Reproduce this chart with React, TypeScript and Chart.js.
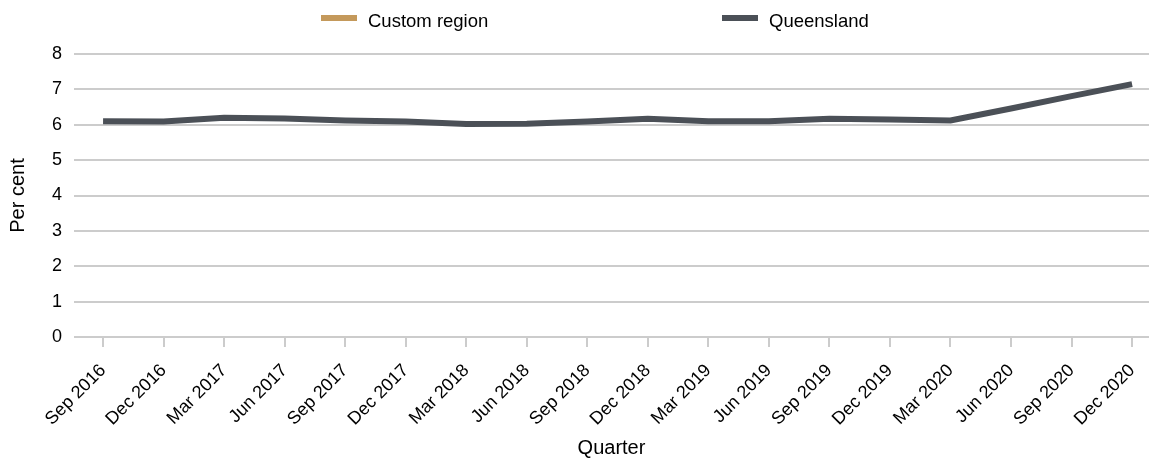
import React, { useEffect, useRef } from "react";
import { Chart, registerables } from "chart.js";

Chart.register(...registerables);

const QUARTERS = [
  "Sep 2016", "Dec 2016", "Mar 2017", "Jun 2017", "Sep 2017", "Dec 2017",
  "Mar 2018", "Jun 2018", "Sep 2018", "Dec 2018", "Mar 2019", "Jun 2019",
  "Sep 2019", "Dec 2019", "Mar 2020", "Jun 2020", "Sep 2020", "Dec 2020",
];
const CUSTOM_REGION: number[] = [];
const QUEENSLAND = [
  6.10, 6.09, 6.20, 6.18, 6.12, 6.09, 6.02, 6.03, 6.09, 6.17,
  6.10, 6.10, 6.17, 6.15, 6.12, 6.46, 6.81, 7.15,
];
const Y_TICKS = [0, 1, 2, 3, 4, 5, 6, 7, 8];

const FONT = "'Liberation Sans', Arial, Helvetica, sans-serif";
const GRID = "#cccccc";

const legendPlugin = {
  id: "slotLegend",
  afterDraw(chart: any) {
    const ctx = chart.ctx;
    const cx = chart.width / 2;
    ctx.save();
    chart.data.datasets.forEach((ds: any, i: number) => {
      const x0 = cx - 253.5 + i * 401;
      ctx.fillStyle = ds.borderColor;
      ctx.fillRect(x0, 15, 36, 6);
      ctx.fillStyle = "#000";
      ctx.font = `18.5px ${FONT}`;
      ctx.textBaseline = "alphabetic";
      ctx.textAlign = "left";
      ctx.fillText(ds.label, x0 + 47, 27);
    });
    ctx.restore();
  },
};

export default function App() {
  const ref = useRef<HTMLCanvasElement>(null);
  useEffect(() => {
    document.body.style.margin = "0";
    const chart = new Chart(ref.current!, {
      type: "line",
      data: {
        datasets: [
          {
            label: "Custom region",
            data: CUSTOM_REGION.map((v, i) => ({ x: i, y: v })),
            borderColor: "#c4995b",
            backgroundColor: "#c4995b",
            borderWidth: 6,
            pointRadius: 0,
          },
          {
            label: "Queensland",
            data: QUEENSLAND.map((v, i) => ({ x: i, y: v })),
            borderColor: "#4b5057",
            backgroundColor: "#4b5057",
            borderWidth: 6,
            pointRadius: 0,
            tension: 0,
          },
        ],
      },
      options: {
        animation: false,
        responsive: true,
        maintainAspectRatio: false,
        layout: { padding: { top: 54, left: 0, right: 0, bottom: 0 } },
        plugins: { legend: { display: false }, tooltip: { enabled: false } },
        scales: {
          x: {
            type: "linear",
            min: -0.48,
            max: 17.28,
            afterBuildTicks: (scale: any) => {
              scale.ticks = QUARTERS.map((_, i) => ({ value: i }));
            },
            afterFit: (scale: any) => {
              scale.height = 125;
              scale.paddingRight = 0;
            },
            ticks: {
              autoSkip: false,
              minRotation: 45,
              maxRotation: 45,
              padding: 13,
              color: "#000",
              font: { family: FONT, size: 18 },
              callback: (v: any) => QUARTERS[v] ?? "",
            },
            grid: {
              drawOnChartArea: false,
              drawTicks: true,
              tickLength: 10,
              color: GRID,
              lineWidth: 2,
            },
            border: { display: false },
            title: {
              display: true,
              text: "Quarter",
              color: "#000",
              font: { family: FONT, size: 20 },
              padding: { top: 2, bottom: 2 },
            },
          },
          y: {
            min: 0,
            max: 8,
            afterBuildTicks: (scale: any) => {
              scale.ticks = Y_TICKS.map((v) => ({ value: v }));
            },
            ticks: {
              padding: 12,
              color: "#000",
              font: { family: FONT, size: 18 },
            },
            grid: { color: GRID, lineWidth: 2, drawTicks: false },
            border: { display: false },
            title: {
              display: true,
              text: "Per cent",
              color: "#000",
              font: { family: FONT, size: 20 },
              padding: { top: 6, bottom: 10 },
            },
          },
        },
      },
      plugins: [legendPlugin],
    });
    return () => chart.destroy();
  }, []);
  return (
    <div style={{ width: 1149, height: 462, position: "relative" }}>
      <canvas ref={ref} />
    </div>
  );
}
